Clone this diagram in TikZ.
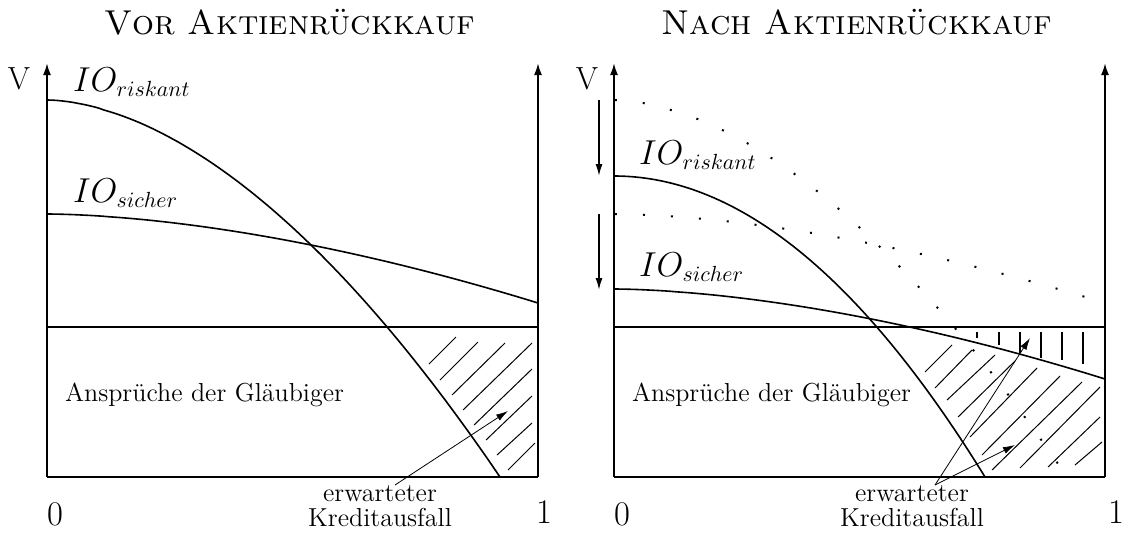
\documentclass[tikz,border=0pt]{standalone}
\usetikzlibrary{arrows.meta}
\begin{document}
\begin{tikzpicture}[x=0.5pt,y=-0.5pt,
  axis/.style={line width=1pt,-{Latex[length=6pt,width=4pt]}},
  frameline/.style={line width=1pt},
  curve/.style={line width=0.8pt},
  hatchline/.style={line width=0.5pt},
  dotline/.style={line width=1pt,dash pattern=on 1pt off 13pt},
  pointer/.style={line width=0.4pt,-{Latex[length=6pt,width=3.5pt]}},
  shiftarrow/.style={line width=0.8pt,-{Latex[length=6pt,width=3.5pt]}},
  title/.style={font=\LARGE\scshape},
  io/.style={font=\fontsize{16.3}{19}\selectfont,anchor=west},
  numlabel/.style={font=\LARGE},
  vlabel/.style={font=\fontsize{16}{19}\selectfont},
  claim/.style={font=\fontsize{13}{15}\selectfont,anchor=west},
  note/.style={font=\fontsize{13}{12.5}\selectfont,align=center}
]
\useasboundingbox (0,0) rectangle (1122,542);

% ---------------- left panel ----------------
\node[title] (tl) at (290,22) {Vor Aktienrückkauf};
\draw[axis] (47,477) -- (47,63);
\draw[axis] (538,477) -- (538,63);
\draw[frameline] (47,477) -- (538,477);
\draw[frameline] (47,327) -- (538,327);
\node[vlabel] (vl) at (19,79) {V};
\node[io] (rl) at (66,82) {$IO_{riskant}$};
\node[io] (sl) at (66,193) {$IO_{sicher}$};
\node[claim] (al) at (58,395) {Ansprüche der Gläubiger};
\node[numlabel] (zl) at (55,514) {0};
\node[numlabel] (ol) at (544,512) {1};

\draw[curve] (47,100) -- plot[domain=0.002:1,samples=90,variable=\t] ({47+453*\t},{100+377*(\t)^1.77});
\draw[curve] (47,214) -- plot[domain=0.002:1,samples=90,variable=\t] ({47+491*\t},{214+89*(\t)^1.7});

\foreach \a/\b/\c/\d in {429/364/456/337, 440/380/478/342, 452/395/505/343, 463/410/532/343,
                         474/425/532/369, 486/440/532/396, 497/455/532/423, 508/470/535/443}
  \draw[hatchline] (\a,\b) -- (\c,\d);

\node[note] (kl) at (380,506) {erwarteter\\Kreditausfall};
\coordinate (kls) at (395,485);
\coordinate (kle) at (508,411);
\draw[pointer] (kls) -- (kle);

% ---------------- right panel ----------------
\node[title] (tr) at (857,22) {Nach Aktienrückkauf};
\draw[axis] (614,477) -- (614,63);
\draw[axis] (1105,477) -- (1105,63);
\draw[frameline] (614,477) -- (1105,477);
\draw[frameline] (614,327) -- (1105,327);
\node[vlabel] (vr) at (587,79) {V};
\node[io] (rr) at (632,155) {$IO_{riskant}$};
\node[io] (sr) at (632,267) {$IO_{sicher}$};
\node[claim] (ar) at (625,395) {Ansprüche der Gläubiger};
\node[numlabel] (zr) at (622,514) {0};
\node[numlabel] (or) at (1116,512) {1};

% old curves (dotted)
\draw[dotline] plot[domain=0.002:1,samples=90,variable=\t] ({614+453*\t},{100+377*(\t)^1.77});
\draw[dotline] plot[domain=0.002:1,samples=90,variable=\t] ({614+491*\t},{214+89*(\t)^1.7});

% new curves
\draw[curve] plot[domain=0:1,samples=90,variable=\t] ({614+371*\t},{176+301*\t*\t});
\draw[curve] (614,289) -- plot[domain=0.002:1,samples=90,variable=\t] ({614+491*\t},{289+90*(\t)^1.7});

% shift arrows
\coordinate (s1a) at (599,100);
\coordinate (s1b) at (599,176);
\coordinate (s2a) at (599,214);
\coordinate (s2b) at (599,290);
\draw[shiftarrow] (s1a) -- (s1b);
\draw[shiftarrow] (s2a) -- (s2b);

% diagonal hatching
\foreach \a/\b/\c/\d in {925/372/952/345, 935/388/972/350, 947/400/995/355, 958/417/1015/361,
                         970/437/1037/368, 982/455/1060/376, 992/470/1082/382, 1020/468/1100/387,
                         1048/467/1100/417, 1075/465/1102/442}
  \draw[hatchline] (\a,\b) -- (\c,\d);
% vertical hatching
\foreach \a/\b in {977/338, 999/345, 1020/353, 1041/358, 1062/360, 1083/364}
  \draw[line width=0.8pt] (\a,332) -- (\a,\b);

\node[note] (kr) at (912,506) {erwarteter\\Kreditausfall};
\coordinate (krs) at (935,485);
\coordinate (kre1) at (1030,338);
\coordinate (kre2) at (1015,445);
\draw[pointer] (krs) -- (kre1);
\draw[pointer] (krs) -- (kre2);
\end{tikzpicture}
\end{document}
